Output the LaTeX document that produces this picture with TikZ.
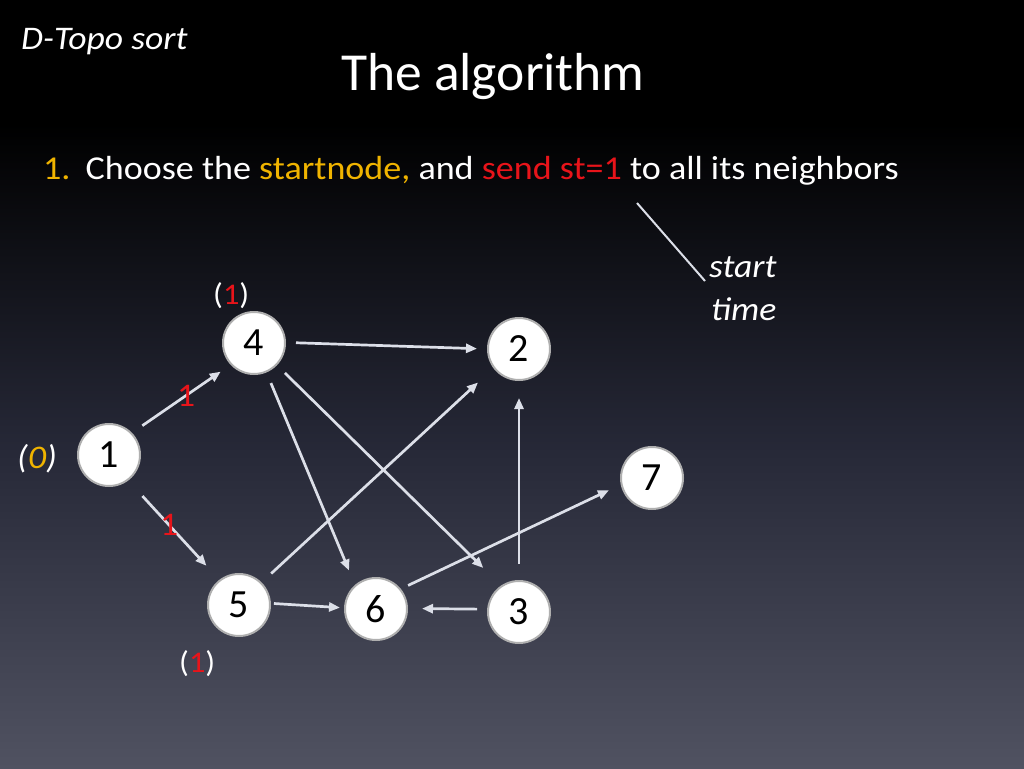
\documentclass[tikz,border=0pt]{standalone}
\usepackage{fontspec}
\setmainfont{Carlito}
\newfontfamily\widefont{Carlito}[FakeStretch=1.08]
\usetikzlibrary{arrows.meta}
\definecolor{edgecol}{RGB}{220,223,232}
\definecolor{labred}{RGB}{232,20,26}
\definecolor{orng}{RGB}{240,180,0}
\definecolor{bgbot}{RGB}{80,82,97}
\definecolor{bgmid}{RGB}{38,40,55}
\begin{document}
\begin{tikzpicture}[x=1pt,y=-1pt,
  vtx/.style={circle,fill=white,draw={rgb,255:red,175;green,175;blue,175},line width=2pt,minimum size=62pt,inner sep=0pt,font=\fontsize{40}{44}\selectfont},
  edge/.style={draw=edgecol,line width=2.7pt,-{Triangle[length=11pt,width=9pt]}},
  elab/.style={text=labred,font=\widefont\fontsize{33}{35}\selectfont,inner sep=0pt},
  txt/.style={inner sep=0pt,anchor=base west,text=white},
  itl/.style={txt,font=\widefont\fontsize{33}{36}\selectfont\itshape},
  par/.style={txt,font=\widefont\fontsize{30}{33}\selectfont}]
\useasboundingbox (0,0) rectangle (1024,768);
\fill[black] (0,0) rectangle (1024,125);
\shade[top color=black,bottom color=bgbot,middle color=bgmid] (0,124) rectangle (1024,768);

\node[itl] (hdr) at (21,49) {D-Topo sort};
\node[txt,font=\fontsize{53.5}{58}\selectfont] (title) at (341,90) {The algorithm};
\node[txt,font=\widefont\fontsize{33.4}{36}\selectfont] (step) at (43,179) {\textcolor{orng}{1.}\hspace{0.45em}Choose the \textcolor{orng}{startnode,} and \textcolor{labred}{send st=1} to all its neighbors};

\coordinate (ptA) at (637,203);
\coordinate (ptB) at (705,281);
\draw[draw=edgecol,line width=2pt] (ptA) -- (ptB);
\node[itl] (st1) at (709,277) {start};
\node[itl] (st2) at (711,320) {time};

\node[vtx] (n1) at (109,455) {1};
\node[vtx] (n4) at (254,343) {4};
\node[vtx] (n2) at (519,349) {2};
\node[vtx] (n7) at (652,478) {7};
\node[vtx] (n5) at (239,605) {5};
\node[vtx] (n6) at (376,609) {6};
\node[vtx] (n3) at (519,612) {3};

\node[itl] (p0) at (17,468) {(\textcolor{orng}{0})};
\node[par] (p4) at (213,304) {(\textcolor{labred}{1})};
\node[par] (p5) at (179,672) {(\textcolor{labred}{1})};

\draw[edge,shorten <=12.5pt,shorten >=12pt] (n1.44) -- node[elab,pos=0.55] {1} (n4.223);
\draw[edge,shorten <=21pt,shorten >=19pt] (n1.-53) -- node[elab,pos=0.45] {1} (n5.128);
\draw[edge,shorten <=11.5pt,shorten >=15.5pt] (n4.-67) -- (n6.131);
\draw[edge,shorten <=11pt,shorten >=25pt] (n4.-44) -- (n3.124);
\draw[edge,shorten <=10pt,shorten >=10pt] (n4.1) -- (n2.180);
\draw[edge,shorten <=13pt,shorten >=21pt] (n5.45) -- (n2.217);
\draw[edge,shorten <=3pt,shorten >=4pt] (n5.3) -- (n6.178);
\draw[edge,shorten <=10pt,shorten >=14pt] (n3.175) -- (n6.1);
\draw[edge,shorten <=16pt,shorten >=17pt] (n3.90) -- (n2.270);
\draw[edge,shorten <=8pt,shorten >=13pt] (n6.39) -- (n7.192);
\end{tikzpicture}
\end{document}
